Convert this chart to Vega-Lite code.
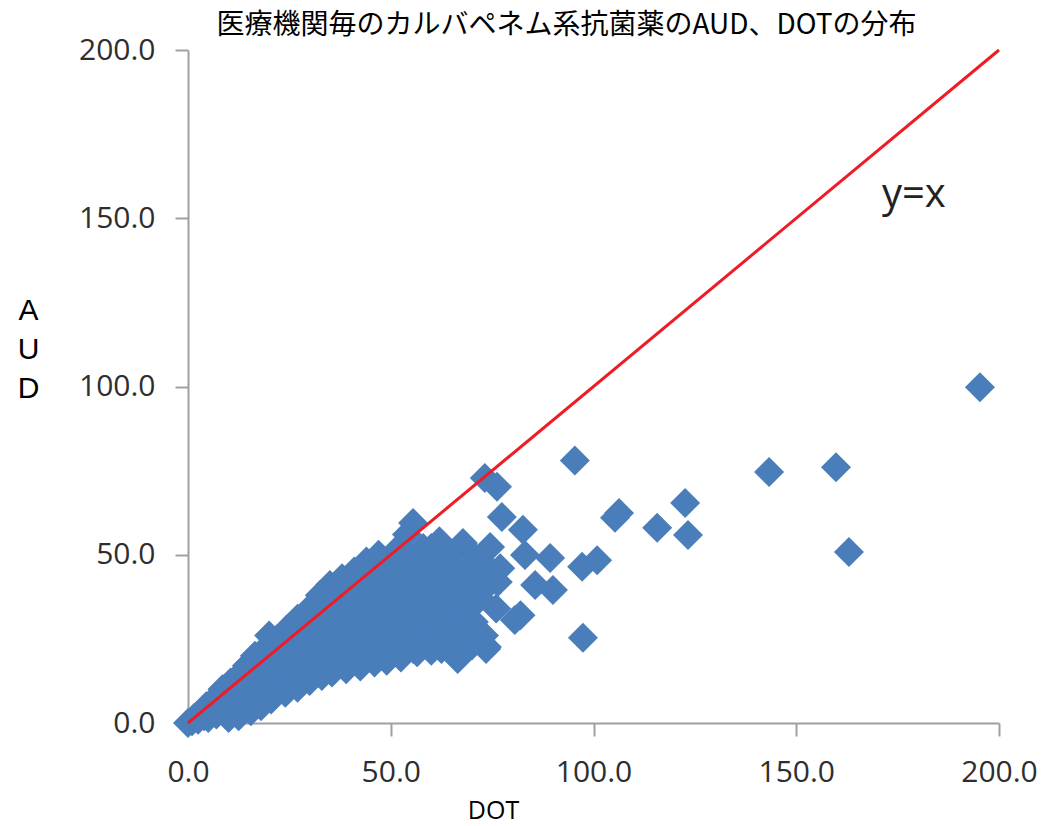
{
  "$schema": "https://vega.github.io/schema/vega-lite/v6.json",
  "width": 811,
  "height": 673,
  "autosize": {"type": "none"},
  "padding": {"left": 188, "top": 50, "right": 49, "bottom": 103},
  "background": "white",
  "config": {"view": {"stroke": null}},
  "title": {
    "text": "医療機関毎のカルバペネム系抗菌薬のAUD、DOTの分布",
    "font": "Noto Sans CJK JP",
    "fontSize": 28,
    "fontWeight": "normal",
    "color": "#000000",
    "anchor": "middle",
    "dx": -27,
    "offset": -5
  },
  "encoding": {
    "x": {
      "field": "DOT", "type": "quantitative",
      "scale": {"domain": [0, 200], "nice": false, "zero": true},
      "axis": {
        "title": "DOT", "values": [0, 50, 100, 150, 200], "format": ".1f",
        "grid": false, "domainColor": "#a0a0a0", "domainWidth": 2, "tickColor": "#a0a0a0", "tickWidth": 2, "tickSize": 13,
        "labelFont": "Open Sans", "labelFontSize": 30, "labelColor": "#2e2e2e", "labelPadding": 21, "labelFlush": false,
        "titleFont": "Open Sans", "titleFontSize": 25, "titleFontWeight": "normal", "titleColor": "#000000",
        "titleX": 305, "titleY": 95, "titleBaseline": "alphabetic"
      }
    },
    "y": {
      "field": "AUD", "type": "quantitative",
      "scale": {"domain": [0, 200], "nice": false, "zero": true},
      "axis": {
        "title": ["A", "U", "D"], "values": [0, 50, 100, 150, 200], "format": ".1f",
        "grid": false, "domainColor": "#a0a0a0", "domainWidth": 2, "tickColor": "#a0a0a0", "tickWidth": 2, "tickSize": 13,
        "labelFont": "Open Sans", "labelFontSize": 30, "labelColor": "#2e2e2e", "labelPadding": 20, "labelFlush": false,
        "titleFont": "Liberation Sans", "titleFontSize": 30, "titleFontWeight": "normal", "titleColor": "#000000",
        "titleAngle": 0, "titleX": -160, "titleY": 245, "titleBaseline": "top", "titleAlign": "center", "titleLineHeight": 39
      }
    }
  },
  "layer": [
    {
      "data": {
        "values": [
          {"DOT": 0, "AUD": 0}, {"DOT": 1, "AUD": 0.5}, {"DOT": 1.5, "AUD": 1.5}, {"DOT": 2.5, "AUD": 1}, {"DOT": 3, "AUD": 3},
          {"DOT": 4, "AUD": 2}, {"DOT": 4.5, "AUD": 5}, {"DOT": 5, "AUD": 1.5}, {"DOT": 6, "AUD": 4}, {"DOT": 6.5, "AUD": 7},
          {"DOT": 7, "AUD": 2.5}, {"DOT": 8, "AUD": 6}, {"DOT": 8.5, "AUD": 10}, {"DOT": 9, "AUD": 3}, {"DOT": 10, "AUD": 8},
          {"DOT": 10.5, "AUD": 12}, {"DOT": 11, "AUD": 4}, {"DOT": 12, "AUD": 7}, {"DOT": 12.5, "AUD": 14}, {"DOT": 13, "AUD": 10},
          {"DOT": 14, "AUD": 5}, {"DOT": 14.5, "AUD": 17}, {"DOT": 15, "AUD": 12}, {"DOT": 16, "AUD": 8}, {"DOT": 16.5, "AUD": 20},
          {"DOT": 17, "AUD": 15}, {"DOT": 18, "AUD": 6}, {"DOT": 18.5, "AUD": 11}, {"DOT": 19, "AUD": 22}, {"DOT": 20, "AUD": 17},
          {"DOT": 20, "AUD": 26}, {"DOT": 20.5, "AUD": 9}, {"DOT": 21, "AUD": 13}, {"DOT": 22, "AUD": 25}, {"DOT": 22.5, "AUD": 20},
          {"DOT": 23, "AUD": 10}, {"DOT": 24, "AUD": 15}, {"DOT": 24.5, "AUD": 28}, {"DOT": 25, "AUD": 22}, {"DOT": 26, "AUD": 12},
          {"DOT": 26.5, "AUD": 18}, {"DOT": 27, "AUD": 31}, {"DOT": 28, "AUD": 25}, {"DOT": 28.5, "AUD": 14}, {"DOT": 29, "AUD": 20},
          {"DOT": 30, "AUD": 34}, {"DOT": 30.5, "AUD": 28}, {"DOT": 31, "AUD": 16}, {"DOT": 32, "AUD": 23}, {"DOT": 32.5, "AUD": 38},
          {"DOT": 33, "AUD": 31}, {"DOT": 34, "AUD": 18}, {"DOT": 34.5, "AUD": 26}, {"DOT": 35, "AUD": 41}, {"DOT": 36, "AUD": 35},
          {"DOT": 36.5, "AUD": 20}, {"DOT": 37, "AUD": 29}, {"DOT": 38, "AUD": 43}, {"DOT": 38.5, "AUD": 38}, {"DOT": 39, "AUD": 17},
          {"DOT": 39.5, "AUD": 24}, {"DOT": 40, "AUD": 32}, {"DOT": 41, "AUD": 45}, {"DOT": 41.5, "AUD": 40}, {"DOT": 42, "AUD": 20},
          {"DOT": 42.5, "AUD": 27}, {"DOT": 43, "AUD": 35}, {"DOT": 44, "AUD": 48}, {"DOT": 44.5, "AUD": 42}, {"DOT": 45, "AUD": 22},
          {"DOT": 45.5, "AUD": 30}, {"DOT": 46, "AUD": 38}, {"DOT": 47, "AUD": 50}, {"DOT": 47.5, "AUD": 44}, {"DOT": 48, "AUD": 25},
          {"DOT": 48.5, "AUD": 33}, {"DOT": 49, "AUD": 40}, {"DOT": 50, "AUD": 47}, {"DOT": 50.5, "AUD": 21}, {"DOT": 51, "AUD": 29},
          {"DOT": 51.5, "AUD": 36}, {"DOT": 52, "AUD": 52}, {"DOT": 52.5, "AUD": 43}, {"DOT": 53, "AUD": 24}, {"DOT": 53.5, "AUD": 31},
          {"DOT": 54, "AUD": 56}, {"DOT": 54.5, "AUD": 39}, {"DOT": 55, "AUD": 47}, {"DOT": 55.5, "AUD": 22}, {"DOT": 56, "AUD": 27},
          {"DOT": 56.5, "AUD": 34}, {"DOT": 57, "AUD": 42}, {"DOT": 57.5, "AUD": 50}, {"DOT": 58, "AUD": 30}, {"DOT": 58.5, "AUD": 24},
          {"DOT": 59, "AUD": 37}, {"DOT": 59.5, "AUD": 45}, {"DOT": 60, "AUD": 52}, {"DOT": 60.5, "AUD": 28}, {"DOT": 61, "AUD": 33},
          {"DOT": 61.5, "AUD": 40}, {"DOT": 62, "AUD": 47}, {"DOT": 62.5, "AUD": 22}, {"DOT": 63, "AUD": 36}, {"DOT": 63.5, "AUD": 30},
          {"DOT": 64, "AUD": 43}, {"DOT": 64.5, "AUD": 50}, {"DOT": 65, "AUD": 25}, {"DOT": 65.5, "AUD": 38}, {"DOT": 66, "AUD": 33},
          {"DOT": 66.5, "AUD": 19}, {"DOT": 67, "AUD": 45}, {"DOT": 67.5, "AUD": 28}, {"DOT": 68, "AUD": 40}, {"DOT": 68.5, "AUD": 52},
          {"DOT": 69, "AUD": 35}, {"DOT": 70, "AUD": 23}, {"DOT": 70.5, "AUD": 30}, {"DOT": 71, "AUD": 43}, {"DOT": 71.5, "AUD": 48},
          {"DOT": 72, "AUD": 37}, {"DOT": 73, "AUD": 26}, {"DOT": 73.5, "AUD": 22}, {"DOT": 74, "AUD": 41}, {"DOT": 75, "AUD": 45},
          {"DOT": 76, "AUD": 34}, {"DOT": 58, "AUD": 52}, {"DOT": 62, "AUD": 54}, {"DOT": 67.8, "AUD": 53.5}, {"DOT": 74.5, "AUD": 52.3},
          {"DOT": 55.5, "AUD": 59.4}, {"DOT": 73.2, "AUD": 72.8}, {"DOT": 76.2, "AUD": 70.2}, {"DOT": 77.4, "AUD": 61.2}, {"DOT": 82.6, "AUD": 57.4},
          {"DOT": 83.1, "AUD": 49.9}, {"DOT": 89.3, "AUD": 49}, {"DOT": 97.2, "AUD": 46.4}, {"DOT": 100.9, "AUD": 48.4}, {"DOT": 85.6, "AUD": 41},
          {"DOT": 90, "AUD": 39.5}, {"DOT": 80.6, "AUD": 30.6}, {"DOT": 82, "AUD": 32}, {"DOT": 97.4, "AUD": 25.3}, {"DOT": 76.4, "AUD": 41.9},
          {"DOT": 77, "AUD": 46}, {"DOT": 95.4, "AUD": 78}, {"DOT": 106.3, "AUD": 62.4}, {"DOT": 105.3, "AUD": 61}, {"DOT": 115.7, "AUD": 58},
          {"DOT": 122.6, "AUD": 65.4}, {"DOT": 123.3, "AUD": 55.9}, {"DOT": 143.3, "AUD": 74.6}, {"DOT": 159.8, "AUD": 76}, {"DOT": 163, "AUD": 50.8},
          {"DOT": 195.3, "AUD": 99.8}, {"DOT": 65.4, "AUD": 20.8}, {"DOT": 73.7, "AUD": 22.6}, {"DOT": 69.5, "AUD": 26.7}, {"DOT": 71.5, "AUD": 48.4},
          {"DOT": 10, "AUD": 1.5}, {"DOT": 12.5, "AUD": 2}, {"DOT": 15.5, "AUD": 3.5}, {"DOT": 18, "AUD": 5}, {"DOT": 20.5, "AUD": 7},
          {"DOT": 24, "AUD": 9}, {"DOT": 27, "AUD": 10.5}, {"DOT": 30, "AUD": 12.5}, {"DOT": 33, "AUD": 14}, {"DOT": 35.5, "AUD": 15},
          {"DOT": 39, "AUD": 16}, {"DOT": 42.5, "AUD": 16.8}, {"DOT": 46, "AUD": 18}, {"DOT": 49, "AUD": 18.5}, {"DOT": 52.5, "AUD": 19.5},
          {"DOT": 56.5, "AUD": 21}, {"DOT": 60, "AUD": 21.5}
        ]
      },
      "mark": {"type": "point", "shape": "diamond", "filled": true, "size": 900, "color": "#4A7EBB", "opacity": 1}
    },
    {
      "data": {"values": [{"DOT": 0, "AUD": 0}, {"DOT": 200, "AUD": 200}]},
      "mark": {"type": "line", "color": "#EE1C25", "strokeWidth": 3}
    },
    {
      "data": {"values": [{"DOT": 179, "AUD": 153.3, "label": "y=x"}]},
      "mark": {"type": "text", "font": "Open Sans", "fontSize": 40, "color": "#222222", "align": "center", "baseline": "alphabetic"},
      "encoding": {"text": {"field": "label"}}
    }
  ]
}
